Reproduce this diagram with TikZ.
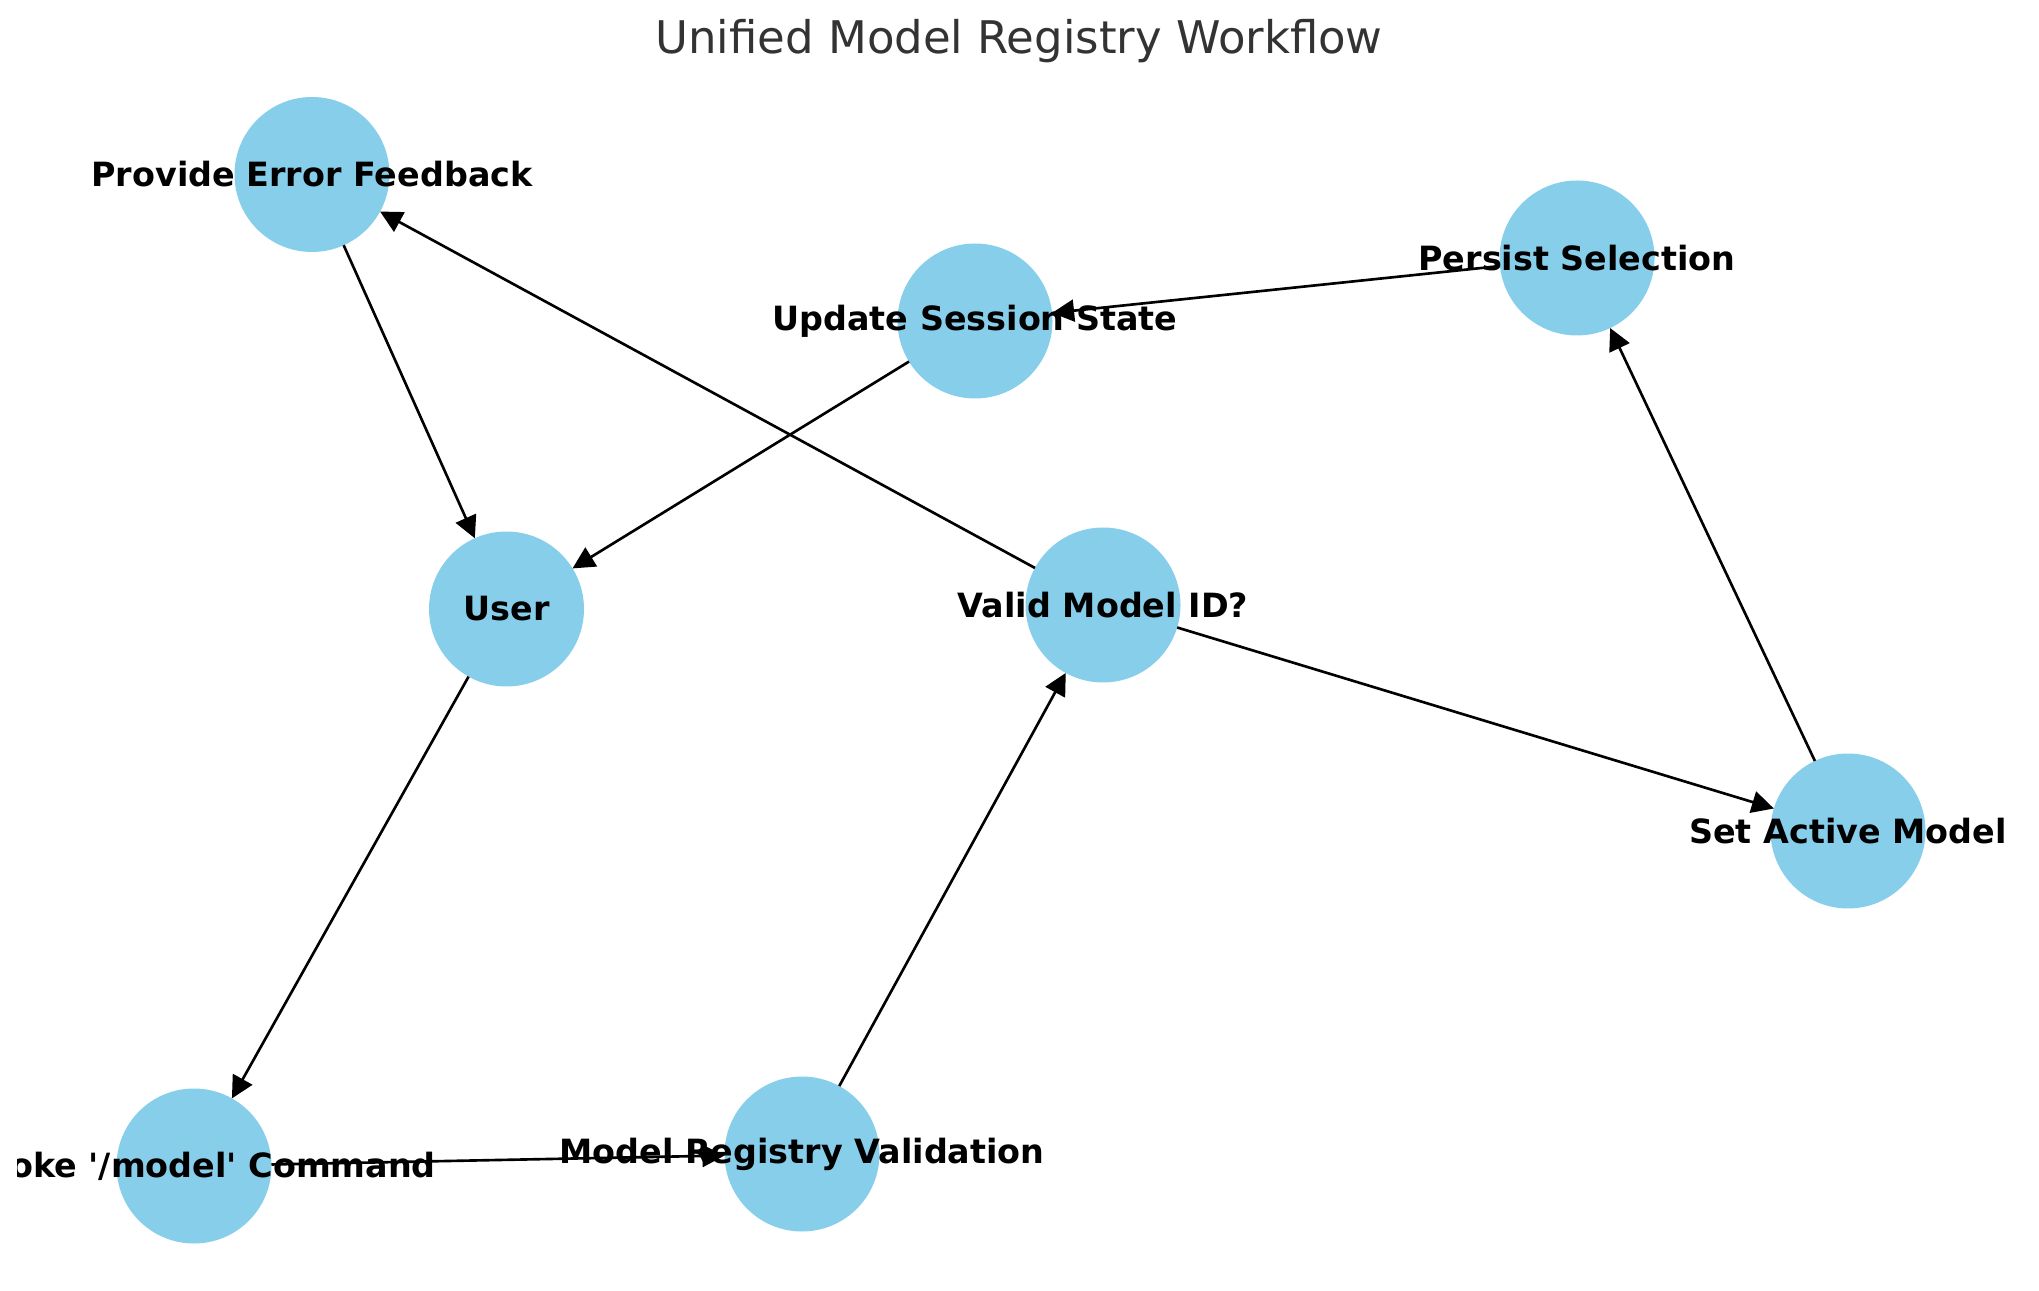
\documentclass[tikz,border=0pt]{standalone}
\usepackage{fontspec}
\setmainfont{DejaVu Sans}
\usepackage{tikz}
\usetikzlibrary{arrows.meta}
\definecolor{skyblue}{RGB}{135,206,235}
\definecolor{titlegray}{RGB}{51,51,51}

\begin{document}
\begin{tikzpicture}[-{Triangle[length=2.2mm,width=2.2mm]}, >=Triangle, line width=0.75pt, task/.style={
						circle,
						fill=skyblue,
						minimum size=15.5mm,
						inner sep=0pt, outer sep=0pt,
					},
					lbl/.style={font=\fontsize{9.5}{11}\selectfont\bfseries, inner sep=0pt},]
					\useasboundingbox (0,0) rectangle (20.39,12.90);
					\node[font=\fontsize{12.8}{15}\selectfont, text=titlegray, anchor=base] (title) at (10.19,12.36) {Unified Model Registry Workflow};
					\node[task] (perr) at (3.12,11.155) {};
					\node[task] (persist) at (15.77,10.32) {};
					\node[task] (session) at (9.75,9.69) {};
					\node[task] (user) at (5.065,6.81) {};
					\node[task] (valid) at (11.03,6.85) {};
					\node[task] (active) at (18.48,4.59) {};
					\node[task] (invoke) at (1.94,1.24) {};
					\node[task] (registry) at (8.02,1.36) {};
					
					\path (user) edge (invoke)
					(invoke) edge (registry)
					(registry) edge (valid)
					(valid) edge (active)
					(valid) edge (perr)
					(active) edge (persist)
					(persist) edge (session)
					(session) edge (user)
					(perr) edge (user)
					;
					% labels go on top of the edges, cut at the left margin
					\begin{scope}
					\clip (0.17,0) rectangle (20.39,12.90);
					\foreach \n/\t in {perr/Provide Error Feedback, persist/Persist Selection, session/Update Session State, user/User, valid/Valid Model ID?, active/Set Active Model, invoke/{Invoke \textquotesingle/model\textquotesingle{} Command}, registry/Model Registry Validation}
					\node[lbl] (\n-txt) at (\n) {\t};
					\end{scope}
					\end{tikzpicture}
\end{document}
